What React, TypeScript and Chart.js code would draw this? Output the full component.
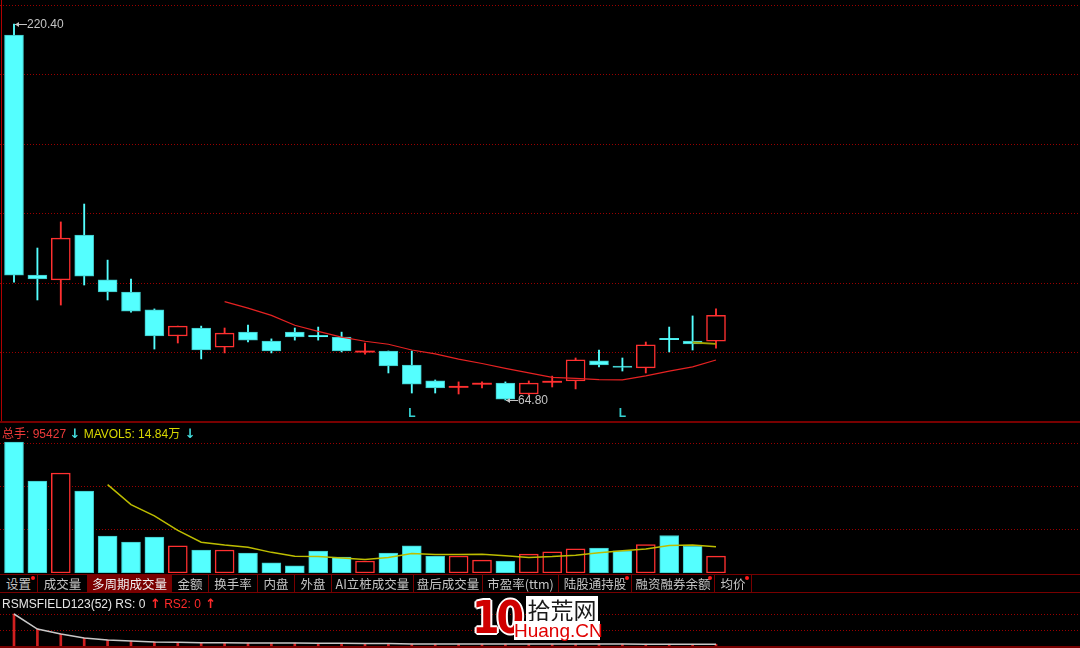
import React, { useEffect, useRef } from 'react';
import { Chart, registerables } from 'chart.js';

Chart.register(...registerables);

// ---------------- data ----------------
const openPrices = [215.85, 116.5, 114.5, 133.1, 114.5, 109.5, 102.1, 91.3, 94.6, 86.7, 92.9, 89.2, 92.9, 91.3, 90.9, 84.6, 85.1, 79.3, 72.7, 70.0, 71.3, 71.8, 67.3, 72.1, 72.7, 81.0, 78.9, 78.1, 90.1, 89.2, 89.2];
const highPrices = [220.4, 127.7, 138.5, 145.9, 122.7, 114.9, 102.5, 95.4, 95.4, 94.6, 95.8, 90.1, 94.6, 95.0, 92.9, 88.4, 85.1, 85.1, 73.1, 72.3, 72.3, 72.3, 72.7, 74.7, 82.2, 85.5, 82.2, 88.8, 95.0, 99.6, 102.5];
const lowPrices = [113.6, 106.2, 104.1, 112.4, 106.2, 101.2, 85.9, 88.4, 81.8, 84.3, 88.8, 84.3, 89.6, 89.6, 84.7, 83.8, 76.0, 67.7, 67.7, 67.3, 69.8, 64.8, 66.9, 70.2, 69.4, 78.5, 76.8, 76.0, 84.7, 85.5, 86.3];
const closePrices = [116.5, 114.9, 131.8, 116.1, 109.5, 101.6, 91.3, 95.4, 85.5, 92.5, 89.6, 85.1, 90.9, 91.0, 85.1, 84.9, 78.9, 71.4, 69.8, 70.4, 71.6, 65.2, 71.8, 72.5, 81.4, 79.3, 78.3, 87.6, 89.8, 88.0, 99.9];
const volumes = [740000, 520000, 565000, 463000, 209000, 175000, 203000, 153000, 130000, 130000, 113000, 57000, 40000, 124000, 90000, 68000, 113000, 153000, 96000, 96000, 73000, 68000, 107000, 119000, 136000, 141000, 125000, 160000, 212000, 150000, 95427];
const rsValues = [2.0, 1.06, 0.75, 0.5, 0.375, 0.31, 0.25, 0.23, 0.21, 0.2, 0.19, 0.19, 0.18, 0.17, 0.17, 0.16, 0.15, 0.13, 0.12, 0.12, 0.12, 0.12, 0.12, 0.12, 0.12, 0.12, 0.12, 0.11, 0.11, 0.11, 0.11];
const lowMarkIndices = [17, 26];
const tabLabels = ['设置', '成交量', '多周期成交量', '金额', '换手率', '内盘', '外盘', 'AI立桩成交量', '盘后成交量', '市盈率(ttm)', '陆股通持股', '融资融券余额', '均价'];
const tabDotted = [true, false, false, false, false, false, false, false, false, false, true, true, true];
const selectedTab = 2;
const totalHandText = '95427';
const mavolText = '14.84万';

// ---------------- layout / style ----------------
const W = 1080;
const SLOT = 23.4;
const X_MIN = -14 / SLOT;
const X_MAX = X_MIN + W / SLOT;
const PRICE_MIN = 55.71;
const PRICE_MAX = 228.26;
const VOL_GRID_STEP = 244833;
const VOL_MAX = 745800;
const RS_MAX = 3;
const tabEdges = [0, 38, 88, 172, 209, 258, 295, 332, 414, 483, 559, 632, 715, 752];

const CYAN = '#54ffff';
const CYAN_EDGE = '#3fc4c4';
const RED = '#ff3030';
const GRID = '#9a0000';
const FONT = '"Liberation Sans", Arial, "Noto Sans CJK SC", sans-serif';
const CJK = '"Noto Sans CJK SC", "Liberation Sans", sans-serif';

const isUp = (i: number) => closePrices[i] >= openPrices[i];
const isDoji = (i: number) => Math.abs(closePrices[i] - openPrices[i]) < 0.6;

function movingAverage(values: number[], n: number) {
  return values.map((_, i) => {
    if (i < n - 1) return null;
    let s = 0;
    for (let k = i - n + 1; k <= i; k++) s += values[k];
    return s / n;
  });
}

const ma10 = movingAverage(closePrices, 10);
const ma30 = movingAverage(closePrices, 30);
const mavol5 = movingAverage(volumes, 5);

const xScale = { type: 'linear', min: X_MIN, max: X_MAX, offset: false, bounds: 'data', display: false, grid: { offset: false } };

function yScale(min: number, max: number, ticks: number[]) {
  return {
    type: 'linear',
    min,
    max,
    bounds: 'data',
    display: true,
    ticks: { display: false },
    grid: { color: GRID, drawTicks: false, lineWidth: 1 },
    border: { display: false, dash: [1, 2] },
    afterBuildTicks: (scale: any) => {
      scale.ticks = ticks.map((v) => ({ value: v }));
    },
  };
}

function baseOptions(padTop: number, y: any): any {
  return {
    animation: false,
    responsive: false,
    maintainAspectRatio: false,
    events: [],
    layout: { padding: { top: padTop, left: 0, right: 0, bottom: 0 } },
    plugins: { legend: { display: false }, tooltip: { enabled: false } },
    scales: { x: xScale, y },
  };
}

const priceMarkPlugin = {
  id: 'priceMarks',
  afterDatasetsDraw(chart: any) {
    const { ctx, scales } = chart;
    const x = scales.x;
    const y = scales.y;
    const hi = Math.max(...highPrices);
    const lo = Math.min(...lowPrices);
    const marks = [
      [highPrices.indexOf(hi), hi],
      [lowPrices.indexOf(lo), lo],
    ];
    ctx.save();
    ctx.font = '12px ' + FONT;
    ctx.fillStyle = '#c4c4c4';
    ctx.strokeStyle = '#c4c4c4';
    ctx.lineWidth = 1;
    ctx.textBaseline = 'middle';
    marks.forEach(([idx, val]) => {
      const px = Math.round(x.getPixelForValue(idx)) + 1;
      const py = Math.round(y.getPixelForValue(val)) + 0.5;
      ctx.beginPath();
      ctx.moveTo(px, py);
      ctx.lineTo(px + 12, py);
      ctx.stroke();
      ctx.beginPath();
      ctx.moveTo(px, py);
      ctx.lineTo(px + 4, py - 2.5);
      ctx.lineTo(px + 4, py + 2.5);
      ctx.closePath();
      ctx.fill();
      ctx.fillText(val.toFixed(2), px + 12, py);
    });
    ctx.fillStyle = '#35d0d0';
    ctx.font = 'bold 12px ' + FONT;
    ctx.textAlign = 'center';
    lowMarkIndices.forEach((i) => {
      ctx.fillText('L', x.getPixelForValue(i), chart.chartArea.bottom - 8);
    });
    ctx.restore();
  },
};

export default function App() {
  const mainRef = useRef<HTMLCanvasElement>(null);
  const volRef = useRef<HTMLCanvasElement>(null);
  const rsRef = useRef<HTMLCanvasElement>(null);

  useEffect(() => {
    document.body.style.margin = '0';
    document.body.style.background = '#000';
    const idx = closePrices.map((_, i) => i);

    const priceTicks = [1, 2, 3, 4, 5, 6].map((k) => PRICE_MIN + (k * (PRICE_MAX - PRICE_MIN)) / 6);
    const main = new Chart(mainRef.current as HTMLCanvasElement, {
      type: 'bar',
      data: {
        datasets: [
          {
            type: 'bar',
            data: idx.map((i) => ({ x: i, y: [lowPrices[i], highPrices[i]] })),
            backgroundColor: idx.map((i) => (isUp(i) ? RED : CYAN)),
            borderWidth: 0,
            barThickness: 1.2,
            grouped: false,
            order: 3,
          },
          {
            type: 'bar',
            data: idx.map((i) => ({ x: i, y: [openPrices[i], closePrices[i]] })),
            backgroundColor: idx.map((i) => (isDoji(i) ? (isUp(i) ? RED : CYAN) : isUp(i) ? '#000' : CYAN)),
            borderColor: idx.map((i) => (isUp(i) ? RED : CYAN_EDGE)),
            borderWidth: idx.map((i) => (isDoji(i) ? 0 : isUp(i) ? 1.5 : 1)),
            borderSkipped: false,
            barThickness: 19,
            minBarLength: 1.2,
            grouped: false,
            order: 2,
          },
          {
            type: 'line',
            data: idx.map((i) => ({ x: i, y: ma10[i] })),
            borderColor: '#e62222',
            borderWidth: 1.2,
            pointRadius: 0,
            spanGaps: false,
            order: 1,
          },
          {
            type: 'line',
            data: idx.map((i) => ({ x: i, y: ma30[i] })),
            borderColor: '#a3a300',
            borderWidth: 2,
            pointRadius: 0,
            spanGaps: false,
            order: 0,
          },
        ] as any,
      },
      options: baseOptions(5, yScale(PRICE_MIN, PRICE_MAX, priceTicks)),
      plugins: [priceMarkPlugin],
    });

    const vol = new Chart(volRef.current as HTMLCanvasElement, {
      type: 'bar',
      data: {
        datasets: [
          {
            type: 'bar',
            data: idx.map((i) => ({ x: i, y: volumes[i] })),
            backgroundColor: idx.map((i) => (isUp(i) ? '#000' : CYAN)),
            borderColor: idx.map((i) => (isUp(i) ? RED : CYAN_EDGE)),
            borderWidth: idx.map((i) => (isUp(i) ? 1.5 : 1)),
            borderSkipped: false,
            barThickness: 19,
            grouped: false,
            order: 2,
          },
          {
            type: 'line',
            data: idx.map((i) => ({ x: i, y: mavol5[i] })),
            borderColor: '#bdbd00',
            borderWidth: 1.5,
            pointRadius: 0,
            spanGaps: false,
            order: 0,
          },
        ] as any,
      },
      options: baseOptions(19, yScale(0, VOL_MAX, [1, 2, 3].map((k) => k * VOL_GRID_STEP))),
    });

    const rs = new Chart(rsRef.current as HTMLCanvasElement, {
      type: 'bar',
      data: {
        datasets: [
          {
            type: 'bar',
            data: idx.map((i) => ({ x: i, y: rsValues[i] })),
            backgroundColor: '#d02020',
            borderWidth: 0,
            barThickness: 2,
            grouped: false,
            order: 2,
          },
          {
            type: 'line',
            data: idx.map((i) => ({ x: i, y: rsValues[i] })),
            borderColor: '#c8c8c8',
            borderWidth: 1.5,
            pointRadius: 0,
            order: 0,
          },
        ] as any,
      },
      options: baseOptions(5, yScale(0, RS_MAX, [1, 2])),
    });

    return () => {
      main.destroy();
      vol.destroy();
      rs.destroy();
    };
  }, []);

  const abs = (left: number, top: number, width: number, height: number, extra: any = {}) => ({
    position: 'absolute' as const,
    left,
    top,
    width,
    height,
    ...extra,
  });

  const arrowStyle = { fontFamily: '"DejaVu Sans", sans-serif', fontWeight: 'bold' as const, fontSize: 13 };

  return (
    <div style={{ position: 'fixed', left: 0, top: 0, width: W, height: 648, background: '#000', overflow: 'hidden' }}>
      <canvas ref={mainRef} width={W} height={422} style={abs(0, 0, W, 422)} />
      <canvas ref={volRef} width={W} height={151} style={abs(0, 422, W, 151)} />
      <canvas ref={rsRef} width={W} height={53} style={abs(0, 593, W, 53)} />

      {/* frame lines */}
      <div style={abs(1, 0, 1, 421, { background: '#b00000' })} />
      <div style={abs(0, 421, W, 2, { background: '#780000' })} />
      <div style={abs(0, 574, W, 1, { background: '#780000' })} />
      <div style={abs(0, 592, W, 1, { background: '#780000' })} />
      <div style={abs(0, 646, W, 2, { background: '#780000' })} />

      {/* volume legend */}
      <div style={abs(2, 425, 400, 15, { font: '12px ' + FONT, lineHeight: '15px', whiteSpace: 'nowrap' })}>
        <span style={{ color: '#ee3a3a', fontFamily: CJK }}>总手</span>
        <span style={{ color: '#ee3a3a' }}>: {totalHandText} </span>
        <span style={{ ...arrowStyle, color: '#44dede' }}>↓</span>
        <span style={{ color: '#d8d800' }}>  MAVOL5: 14.84</span>
        <span style={{ color: '#d8d800', fontFamily: CJK }}>{mavolText.slice(-1)}</span>
        <span style={{ ...arrowStyle, color: '#44dede' }}> ↓</span>
      </div>

      {/* tab bar */}
      {tabLabels.map((t, i) => {
        const l = tabEdges[i];
        const w = tabEdges[i + 1] - tabEdges[i];
        const sel = i === selectedTab;
        return (
          <div
            key={t}
            style={abs(l, 575, w, 17, {
              borderRight: '1px solid #780000',
              boxSizing: 'border-box',
              background: sel ? '#7a0000' : 'transparent',
              color: sel ? '#f0f0f0' : '#c4c4c4',
              font: '12.5px ' + CJK,
              lineHeight: '17px',
              textAlign: 'center',
              whiteSpace: 'nowrap',
            })}
          >
            {t}
            {tabDotted[i] && (
              <span style={{ position: 'absolute', right: 2, top: 1, width: 4, height: 4, borderRadius: 2, background: '#ff1a1a' }} />
            )}
          </div>
        );
      })}

      {/* rs legend */}
      <div style={abs(2, 596, 400, 15, { font: '12px ' + FONT, lineHeight: '15px', whiteSpace: 'nowrap' })}>
        <span style={{ color: '#e6e6e6' }}>RSMSFIELD123(52) RS: 0</span>
        <span style={{ ...arrowStyle, color: '#ff2a2a' }}> ↑</span>
        <span style={{ color: '#ff2a2a' }}>  RS2: 0</span>
        <span style={{ ...arrowStyle, color: '#ff2a2a' }}> ↑</span>
      </div>

      {/* watermark */}
      <div
        style={abs(472, 594, 56, 48, {
          font: 'bold 44px "DejaVu Sans Condensed", "DejaVu Sans", sans-serif',
          lineHeight: '48px',
          color: '#d00000',
          letterSpacing: '-3px',
          textShadow: '2px 0 #fff, -2px 0 #fff, 0 2px #fff, 0 -2px #fff, 1px 1px #fff, -1px -1px #fff, 1px -1px #fff, -1px 1px #fff',
        })}
      >
        10
      </div>
      <div style={abs(526, 596, 72, 26, { background: '#fff', color: '#1a1a1a', font: '23px ' + CJK, lineHeight: '26px', textAlign: 'center' })}>
        拾荒网
      </div>
      <div style={abs(514, 621, 86, 19, { background: '#fff', color: '#e00000', font: '19px ' + FONT, lineHeight: '19px', textAlign: 'center' })}>
        Huang.CN
      </div>
    </div>
  );
}
